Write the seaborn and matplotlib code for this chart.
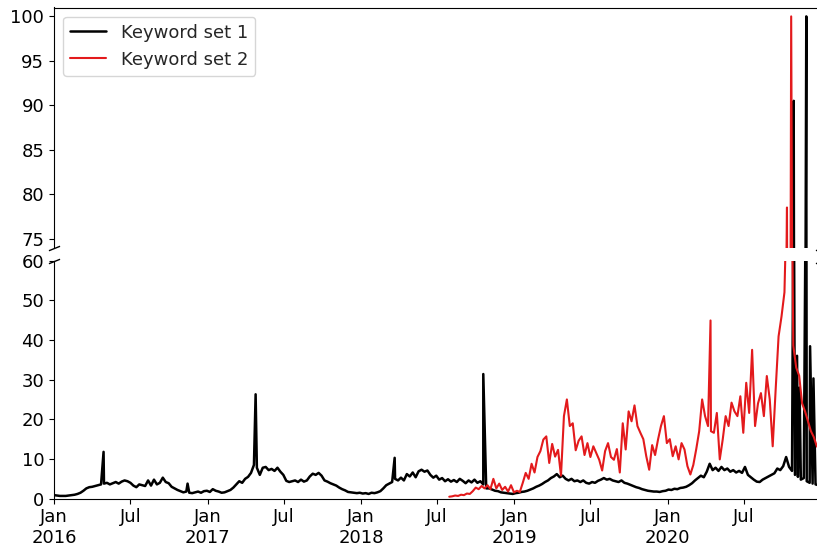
import pandas as pd
import matplotlib
matplotlib.use("Agg")
import matplotlib.pyplot as plt
import seaborn as sns

# ---- Keyword set 1: weekly search interest (from 2016-01-01, every 7 days) ----
set1_start = "2016-01-01"
set1_2016 = [0.9, 0.8, 0.7, 0.7, 0.7,
             0.8, 0.9, 1.0, 1.2,
             1.5, 2.0, 2.6, 2.9,
             3.0, 3.2, 3.4, 3.6, 3.8,
             4.0, 3.6, 3.9, 4.2,
             3.8, 4.3, 4.6, 4.4,
             4.0, 3.3, 2.9, 3.6, 3.4,
             3.2, 4.6, 3.3, 4.8,
             3.6, 4.0, 5.3, 4.2, 3.9,
             3.0, 2.6, 2.2, 1.9,
             1.6, 1.8, 1.5, 1.4,
             1.6, 1.8, 1.5, 1.9, 2.0]
set1_2017 = [1.7, 2.4, 2.0, 1.8,
             1.5, 1.6, 1.9, 2.2,
             2.8, 3.6, 4.4, 4.0, 5.0,
             5.5, 6.5, 8.5, 7.8,
             6.0, 7.8, 8.0, 7.2,
             7.5, 7.0, 7.8, 6.8, 6.0,
             4.5, 4.2, 4.4, 4.6,
             4.2, 4.8, 4.3, 4.6,
             5.6, 6.3, 6.0, 6.5, 5.8,
             4.6, 4.3, 3.9, 3.6,
             3.3, 2.8, 2.4, 2.1,
             1.7, 1.6, 1.5, 1.4, 1.5]
set1_2018 = [1.3, 1.4, 1.2, 1.5,
             1.4, 1.6, 1.9, 2.6,
             3.4, 3.8, 4.2, 5.0, 4.6,
             5.3, 4.6, 6.2, 5.6,
             6.6, 5.4, 6.9, 7.3,
             6.8, 7.1, 6.0, 5.3, 5.8,
             4.8, 5.2, 4.4, 4.9,
             4.3, 4.7, 4.2, 5.0, 4.5,
             3.9, 4.6, 4.1, 4.8,
             4.0, 4.4, 3.6, 2.6,
             2.6, 2.3, 2.0, 1.9, 1.6,
             1.5, 1.4, 1.3, 1.2]
set1_2019 = [1.4, 1.5, 1.7, 1.8,
             2.0, 2.3, 2.6, 3.0,
             3.3, 3.7, 4.2, 4.6, 5.2,
             5.6, 6.2, 5.4, 5.8,
             5.0, 4.6, 5.0, 4.4, 4.6,
             4.2, 4.6, 4.0, 3.8,
             4.2, 4.0, 4.5, 4.8,
             5.2, 4.8, 5.0, 4.6, 4.4,
             4.2, 4.6, 4.0, 3.8,
             3.5, 3.2, 2.9, 2.7,
             2.4, 2.2, 2.0, 1.9, 1.8,
             1.8, 1.7, 1.9, 2.0]
set1_2020 = [2.3, 2.2, 2.5, 2.4, 2.7,
             2.8, 3.0, 3.4, 3.9,
             4.6, 5.2, 5.8, 5.4,
             6.8, 8.8, 7.2, 7.8,
             7.0, 8.0, 7.2, 7.6, 6.8,
             7.2, 6.6, 7.0, 6.5,
             8.0, 6.0, 5.4, 4.8, 4.3,
             4.2, 4.8, 5.2, 5.6,
             6.0, 6.4, 7.6, 7.2,
             8.2, 10.5, 8.0, 7.0, 6.0,
             5.5, 4.8, 5.2, 4.4,
             4.0, 3.8, 3.6, 3.4, 3.3]
set1_weekly = set1_2016 + set1_2017 + set1_2018 + set1_2019 + set1_2020

# single-day peaks of keyword set 1
set1_peak_dates = ["2016-04-28", "2016-11-14", "2017-04-25", "2018-03-22",
                   "2018-10-19", "2020-10-27", "2020-11-04", "2020-11-10",
                   "2020-11-26", "2020-12-05", "2020-12-13"]
set1_peak_values = [11.8, 3.8, 26.3, 10.3, 31.4, 90.5, 36.0, 28.0,
                    100.0, 38.4, 30.3]

# ---- Keyword set 2: weekly search interest (from 2018-07-30, every 7 days) ----
set2_start = "2018-07-30"
set2_weekly = [0.5, 0.6, 0.8, 0.7, 1.0, 0.9, 1.3, 1.2, 1.9, 2.8,
               2.4, 3.2, 2.6, 3.4, 2.4, 5.0, 2.6, 3.8, 2.2, 3.0,
               1.8, 3.4, 1.6, 2.0, 1.7, 4.0, 6.5, 5.0, 8.8, 6.6,
               10.5, 12.0, 14.9, 15.7, 9.0, 13.8, 10.6, 12.3, 5.8, 20.8,
               25.0, 18.3, 19.0, 12.2, 14.6, 15.7, 11.0, 14.0, 10.5, 13.2,
               11.5, 9.8, 7.1, 12.0, 14.0, 10.5, 9.8, 12.5, 6.6, 19.0,
               12.4, 22.0, 19.5, 23.5, 18.3, 16.6, 15.0, 10.7, 7.3, 13.5,
               11.0, 14.9, 18.3, 20.8, 14.0, 15.0, 10.7, 13.2, 9.9, 14.0,
               12.4, 8.2, 6.1, 8.5, 12.5, 17.0, 25.0, 20.8, 18.3, 17.0,
               16.6, 21.6, 9.9, 14.9, 20.8, 18.3, 24.2, 22.0, 20.8, 25.8,
               16.6, 29.2, 21.6, 37.5, 18.3, 24.0, 26.6, 20.8, 30.9, 25.0,
               13.2, 27.4, 40.9, 45.9, 52.0, 62.0, 61.0, 38.6, 33.0, 31.0,
               24.0, 22.0, 19.5, 17.0, 15.5, 13.2, 12.5]

# single-day peaks of keyword set 2
set2_peak_dates = ["2020-04-12", "2020-10-11", "2020-10-21"]
set2_peak_values = [44.9, 78.5, 100.0]

series_labels = ["Keyword set 1", "Keyword set 2"]
series_colors = ["black", "#e31a1c"]
series_widths = [1.8, 1.5]

tick_dates = ["2016-01-01", "2016-07-01", "2017-01-01", "2017-07-01",
              "2018-01-01", "2018-07-01", "2019-01-01", "2019-07-01",
              "2020-01-01", "2020-07-01"]
tick_labels = ["Jan\n2016", "Jul", "Jan\n2017", "Jul", "Jan\n2018", "Jul",
               "Jan\n2019", "Jul", "Jan\n2020", "Jul"]
upper_ticks = [75, 80, 85, 90, 95, 100]
lower_ticks = [0, 10, 20, 30, 40, 50, 60]


def build_series(start, weekly, peak_dates, peak_values):
    base = pd.DataFrame({
        "date": pd.date_range(start, periods=len(weekly), freq="7D"),
        "value": weekly,
    })
    peaks = pd.DataFrame({"date": pd.to_datetime(peak_dates),
                          "value": peak_values})
    return pd.concat([base, peaks]).sort_values("date").reset_index(drop=True)


frames = [build_series(set1_start, set1_weekly, set1_peak_dates, set1_peak_values),
          build_series(set2_start, set2_weekly, set2_peak_dates, set2_peak_values)]

sns.set_style("ticks")
plt.rcParams.update({
    "font.family": ["DejaVu Sans"],
    "font.size": 13,
    "xtick.labelsize": 13,
    "ytick.labelsize": 13,
    "xtick.major.size": 3.5,
    "ytick.major.size": 3.5,
    "xtick.color": "black",
    "ytick.color": "black",
    "axes.edgecolor": "black",
    "axes.linewidth": 0.8,
})

W, H = 817, 547
fig = plt.figure(figsize=(W / 100, H / 100), dpi=100)
left = 54 / W
width = (821 - 54) / W
ax_top = fig.add_axes([left, (H - 247.5) / H, width, (247.5 - 7.5) / H])
ax_bot = fig.add_axes([left, (H - 498.7) / H, width, (498.7 - 260.5) / H],
                      sharex=ax_top)

for ax in (ax_top, ax_bot):
    for label, color, lw, df in zip(series_labels, series_colors,
                                    series_widths, frames):
        sns.lineplot(data=df, x="date", y="value", color=color, linewidth=lw,
                     estimator=None, errorbar=None, sort=True, ax=ax,
                     label=label if ax is ax_top else None, legend=False)
    ax.set_xlabel("")
    ax.set_ylabel("")

ax_top.set_ylim(74, 101)
ax_bot.set_ylim(0, 60)
ax_top.set_yticks(upper_ticks)
ax_bot.set_yticks(lower_ticks)

ax_bot.set_xlim(pd.Timestamp("2016-01-01"), pd.Timestamp("2020-12-31"))
ax_bot.set_xticks(pd.to_datetime(tick_dates))
ax_bot.set_xticklabels(tick_labels)
ax_bot.tick_params(axis="x", which="minor", bottom=False)

ax_top.tick_params(axis="x", which="both", bottom=False, labelbottom=False)
ax_top.spines["bottom"].set_visible(False)
ax_bot.spines["top"].set_visible(False)

# diagonal cut marks where the y axis is broken
d = 0.4
cut = dict(marker=[(-1, -d), (1, d)], markersize=8, linestyle="none",
           color="k", mec="k", mew=1, clip_on=False)
ax_top.plot([0, 1], [0, 0], transform=ax_top.transAxes, **cut)
ax_bot.plot([0, 1], [1, 1], transform=ax_bot.transAxes, **cut)

handles, labels = ax_top.get_legend_handles_labels()
ax_top.legend(handles, labels, loc="upper left", fontsize=13, frameon=True)

fig.savefig("out.png", dpi=100)
